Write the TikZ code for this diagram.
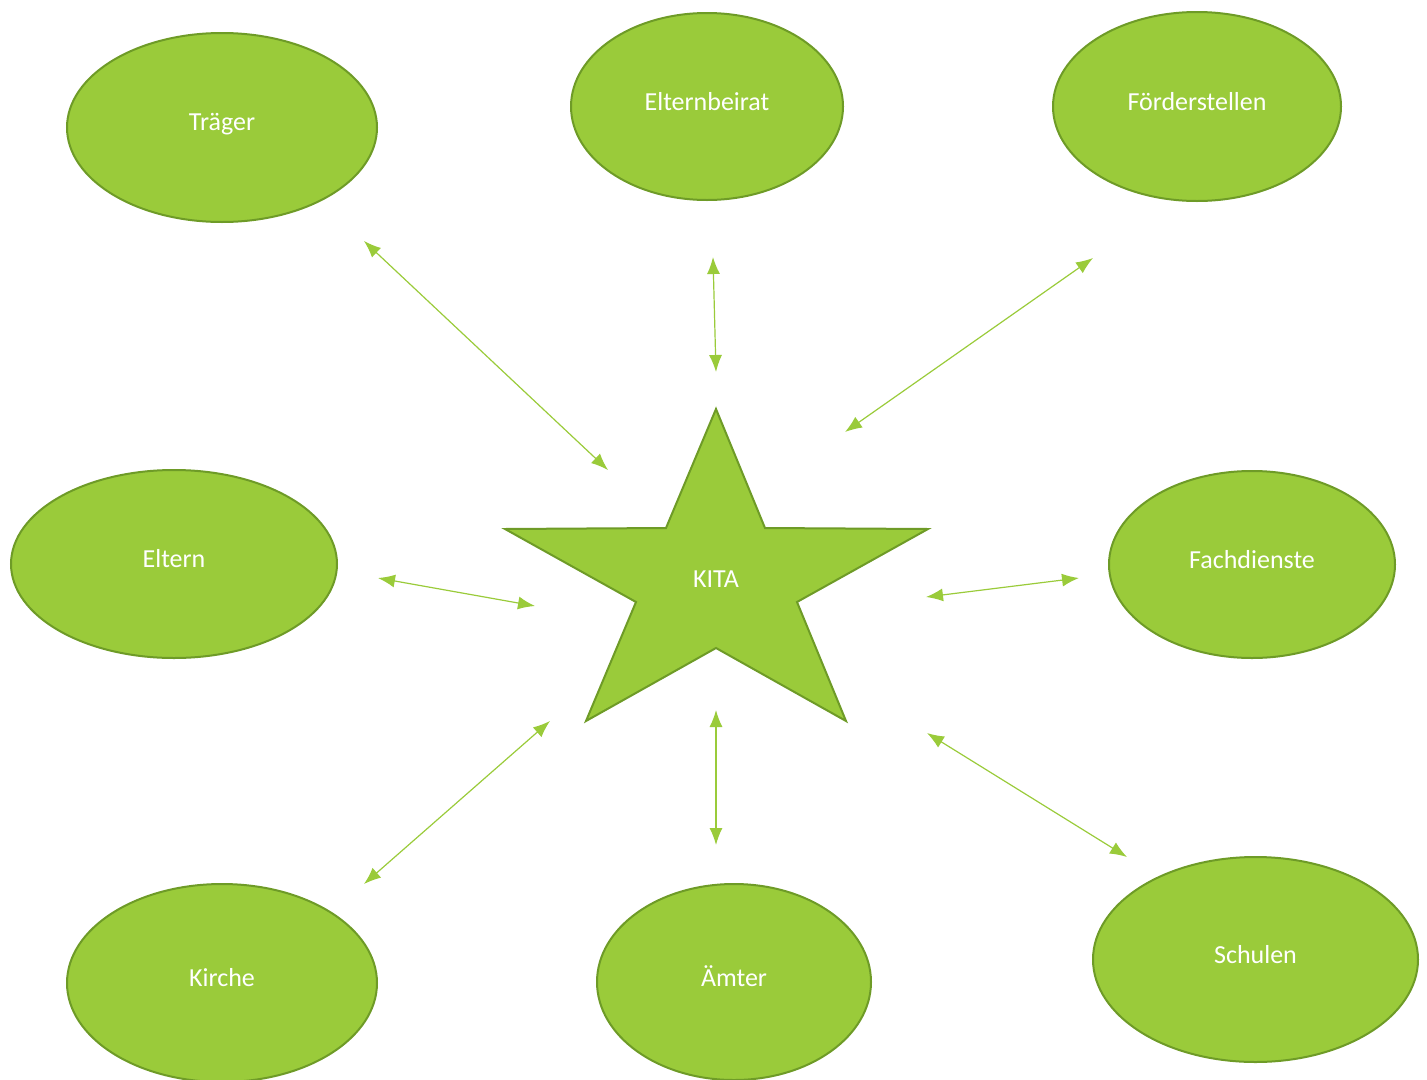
\documentclass[tikz,border=0pt]{standalone}
\usepackage{fontspec}
\setmainfont{Carlito}
\usetikzlibrary{shapes.geometric,arrows.meta}
\definecolor{kfill}{HTML}{9ACB3A}
\definecolor{kline}{HTML}{6E9B27}
\definecolor{karrow}{HTML}{9ACB3A}
\tikzset{
  oval/.style={ellipse, draw=kline, fill=kfill, line width=2pt, inner sep=0pt, text=white, font=\fontsize{26}{30}\selectfont},
  link/.style={draw=karrow, line width=1.2pt, {Latex[length=17pt,width=13pt]}-{Latex[length=17pt,width=13pt]}},
}
\newcommand{\up}[1]{\raisebox{11pt}{#1}}
\begin{document}
\begin{tikzpicture}[x=1pt,y=-1pt]
\useasboundingbox (0,0) rectangle (1427,1079);
\node[oval, minimum width=310pt, minimum height=189pt] (traeger) at (222,127.5) {\up{Träger}};
\node[oval, minimum width=272pt, minimum height=187pt] (beirat) at (707,106.5) {\up{Elternbeirat}};
\node[oval, minimum width=288pt, minimum height=189pt] (foerder) at (1197,106.5) {\up{Förderstellen}};
\node[oval, minimum width=326pt, minimum height=188pt] (eltern) at (174,564) {\up{Eltern}};
\node[oval, minimum width=286pt, minimum height=187pt] (fach) at (1252,564.5) {\up{Fachdienste}};
\node[oval, minimum width=310pt, minimum height=198pt] (kirche) at (222,983) {\up{Kirche}};
\node[oval, minimum width=274pt, minimum height=196pt] (aemter) at (734,982) {\up{Ämter}};
\node[oval, minimum width=325pt, minimum height=205pt] (schulen) at (1255.5,959.5) {\up{Schulen}};
% star
\draw[draw=kline, fill=kfill, line width=2pt, line join=miter]
  (716,409) -- (765,528) -- (928,529) -- (797,602) -- (846,721) -- (716,648)
  -- (586,721) -- (636,602) -- (505,529) -- (666,528) -- cycle;
\node[text=white, font=\fontsize{26}{30}\selectfont] (kita) at (716,579) {KITA};
% arrow end points
\coordinate (a1) at (364,241); \coordinate (b1) at (608,470);
\coordinate (a2) at (713,257); \coordinate (b2) at (716,372);
\coordinate (a3) at (1093,258); \coordinate (b3) at (845,432);
\coordinate (a4) at (378,578); \coordinate (b4) at (535,606);
\coordinate (a5) at (1079,578); \coordinate (b5) at (926,597);
\coordinate (a6) at (364,884); \coordinate (b6) at (550,721);
\coordinate (a7) at (716,845); \coordinate (b7) at (716,710);
\coordinate (a8) at (1127,857); \coordinate (b8) at (927,733);
\foreach \i in {1,...,8} { \draw[link] (a\i) -- (b\i); }
\end{tikzpicture}
\end{document}
